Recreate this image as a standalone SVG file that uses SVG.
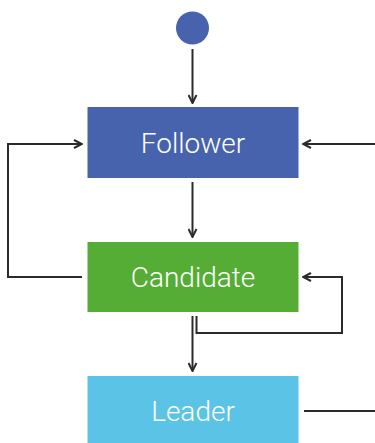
<svg xmlns="http://www.w3.org/2000/svg" width="375" height="443" viewBox="0 0 375 443">
<style>
.lbl{font-family:Roboto,"Liberation Sans",sans-serif;font-size:28px;font-weight:300;fill:#ffffff;text-anchor:middle;dominant-baseline:central}
.c{fill:none;stroke:#2b2b2b;stroke-width:2}
</style>
<defs>
<marker id="ah" viewBox="0 0 10 10" refX="9" refY="5" markerWidth="10" markerHeight="10" markerUnits="userSpaceOnUse" orient="auto">
<path d="M1,1 L9,5 L1,9" fill="none" stroke="#2b2b2b" stroke-width="2"/>
</marker>
</defs>
<g id="start"><circle cx="192.5" cy="28" r="16.5" fill="#4763ad"/></g>
<g id="follower"><rect x="87.5" y="107" width="211" height="71" fill="#4763ad"/><text class="lbl" x="193" y="143">Follower</text></g>
<g id="candidate"><rect x="87.5" y="242" width="211" height="70" fill="#55ad35"/><text class="lbl" x="193" y="277">Candidate</text></g>
<g id="leader"><rect x="87.5" y="376" width="211" height="70" fill="#5bc3e5"/><text class="lbl" x="193" y="411">Leader</text></g>
<g id="connectors">
<path class="c" d="M192.5,49 V103" marker-end="url(#ah)"/>
<path class="c" d="M192.5,182 V237" marker-end="url(#ah)"/>
<path class="c" d="M192.5,316 V371" marker-end="url(#ah)"/>
<path class="c" d="M82,277 H8 V144 H82" marker-end="url(#ah)"/>
<path class="c" d="M375,144 H303" marker-end="url(#ah)"/>
<path class="c" d="M196.5,316 V333 H342 V277 H303" marker-end="url(#ah)"/>
<path class="c" d="M304,411 H375"/>
</g>
</svg>
